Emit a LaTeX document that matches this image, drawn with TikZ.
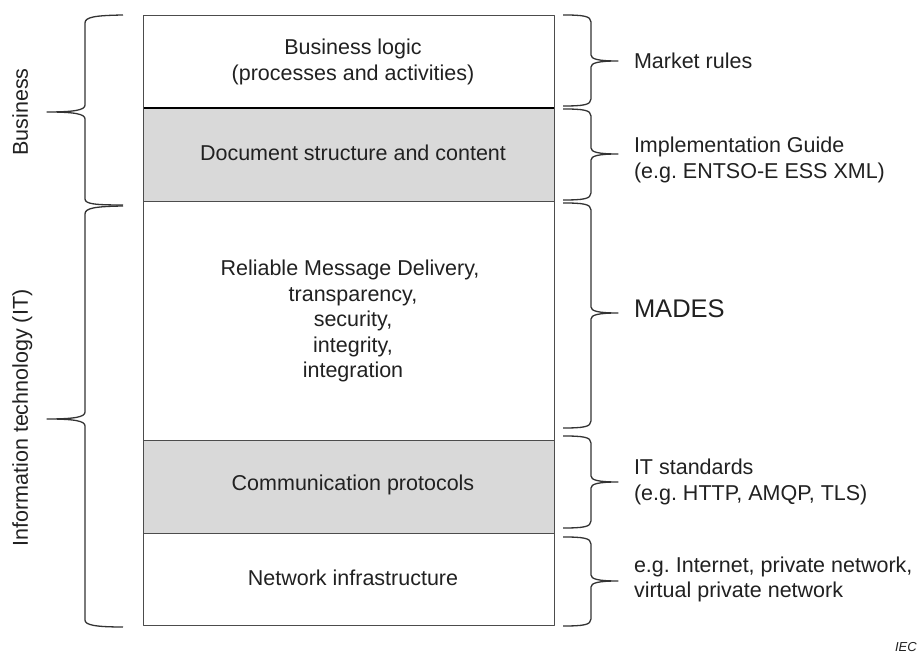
\documentclass[tikz,border=0pt]{standalone}
\usepackage{fontspec}
\setmainfont{Liberation Sans}
\frenchspacing
\begin{document}
\begin{tikzpicture}[x=1pt,y=1pt]
\definecolor{fillColor}{RGB}{255,255,255}
\path[use as bounding box,fill=fillColor] (0,0) rectangle (922,653);
\begin{scope}
\definecolor{fillColor}{RGB}{217,217,217}

\path[fill=fillColor] (143.50,451.00) rectangle (554.00,545.00);

\path[fill=fillColor] (143.50,119.50) rectangle (554.00,212.00);
\definecolor{drawColor}{gray}{0.30}

\path[draw=drawColor,line width= 1.0pt,line join=round] (143.50, 27.00) rectangle (554.00,637.00);

\path[draw=drawColor,line width= 1.0pt,line join=round] (143.50,451.00) --
	(554.00,451.00);

\path[draw=drawColor,line width= 1.0pt,line join=round] (143.50,212.00) --
	(554.00,212.00);

\path[draw=drawColor,line width= 1.0pt,line join=round] (143.50,119.50) --
	(554.00,119.50);
\definecolor{drawColor}{RGB}{0,0,0}

\path[draw=drawColor,line width= 2.0pt] (143.50,545.00) --
	(554.00,545.00);
\end{scope}
\begin{scope}
\definecolor{drawColor}{gray}{0.20}

\path[draw=drawColor,line width= 1.3pt,line join=round] (123.00,638.00) ..
	controls ( 95.00,637.50) and ( 85.00,636.00) .. ( 85.00,630.00) --
	( 85.00,548.00) .. controls ( 85.00,543.00) and ( 75.00,541.00) .. ( 47.00,541.00) ..
	controls ( 75.00,541.00) and ( 85.00,539.00) .. ( 85.00,534.00) --
	( 85.00,454.00) .. controls ( 85.00,449.00) and ( 95.00,448.00) .. (123.00,448.00);

\path[draw=drawColor,line width= 1.3pt,line join=round] (123.00,447.00) ..
	controls ( 95.00,446.50) and ( 85.00,445.00) .. ( 85.00,439.00) --
	( 85.00,241.00) .. controls ( 85.00,236.00) and ( 75.00,234.00) .. ( 47.00,234.00) ..
	controls ( 75.00,234.00) and ( 85.00,232.00) .. ( 85.00,227.00) --
	( 85.00, 33.00) .. controls ( 85.00, 28.00) and ( 95.00, 26.00) .. (123.00, 26.00);

\path[draw=drawColor,line width= 1.3pt,line join=round] (563.00,638.00) ..
	controls (583.00,638.00) and (591.00,637.00) .. (591.00,631.00) --
	(591.00,598.00) .. controls (591.00,594.00) and (598.00,592.00) .. (618.00,592.00) ..
	controls (598.00,592.00) and (591.00,590.00) .. (591.00,586.00) --
	(591.00,554.00) .. controls (591.00,548.00) and (583.00,547.00) .. (563.00,547.00);

\path[draw=drawColor,line width= 1.3pt,line join=round] (563.00,544.00) ..
	controls (583.00,544.00) and (591.00,543.00) .. (591.00,537.00) --
	(591.00,505.00) .. controls (591.00,501.00) and (598.00,499.00) .. (618.00,499.00) ..
	controls (598.00,499.00) and (591.00,497.00) .. (591.00,493.00) --
	(591.00,460.00) .. controls (591.00,454.00) and (583.00,453.00) .. (563.00,453.00);

\path[draw=drawColor,line width= 1.3pt,line join=round] (563.00,450.00) ..
	controls (583.00,450.00) and (591.00,449.00) .. (591.00,443.00) --
	(591.00,346.00) .. controls (591.00,342.00) and (598.00,340.00) .. (618.00,340.00) ..
	controls (598.00,340.00) and (591.00,338.00) .. (591.00,334.00) --
	(591.00,232.00) .. controls (591.00,226.00) and (583.00,225.00) .. (563.00,225.00);

\path[draw=drawColor,line width= 1.3pt,line join=round] (563.00,217.00) ..
	controls (583.00,217.00) and (591.00,216.00) .. (591.00,210.00) --
	(591.00,177.00) .. controls (591.00,173.00) and (598.00,171.00) .. (618.00,171.00) ..
	controls (598.00,171.00) and (591.00,169.00) .. (591.00,165.00) --
	(591.00,132.00) .. controls (591.00,126.00) and (583.00,125.00) .. (563.00,125.00);

\path[draw=drawColor,line width= 1.3pt,line join=round] (563.00,116.00) ..
	controls (583.00,116.00) and (591.00,115.00) .. (591.00,109.00) --
	(591.00, 78.00) .. controls (591.00, 74.00) and (598.00, 72.00) .. (618.00, 72.00) ..
	controls (598.00, 72.00) and (591.00, 70.00) .. (591.00, 66.00) --
	(591.00, 34.00) .. controls (591.00, 28.00) and (583.00, 27.00) .. (563.00, 27.00);
\end{scope}
\begin{scope}
\definecolor{drawColor}{gray}{0.13}

\node (logic1) [text=drawColor,anchor=base,inner sep=0pt, outer sep=0pt, scale=  2.15] at (353.00,598.00) {Business logic};

\node (logic2) [text=drawColor,anchor=base,inner sep=0pt, outer sep=0pt, scale=  2.15] at (353.00,572.00) {(processes and activities)};

\node (docstruct) [text=drawColor,anchor=base,inner sep=0pt, outer sep=0pt, scale=  2.15] at (353.00,492.30) {Document structure and content};

\node (rmd1) [text=drawColor,anchor=base,inner sep=0pt, outer sep=0pt, scale=  2.15] at (350.00,377.00) {Reliable Message Delivery,};

\node (rmd2) [text=drawColor,anchor=base,inner sep=0pt, outer sep=0pt, scale=  2.15] at (353.00,351.50) {transparency,};

\node (rmd3) [text=drawColor,anchor=base,inner sep=0pt, outer sep=0pt, scale=  2.15] at (353.00,326.00) {security,};

\node (rmd4) [text=drawColor,anchor=base,inner sep=0pt, outer sep=0pt, scale=  2.15] at (353.00,300.50) {integrity,};

\node (rmd5) [text=drawColor,anchor=base,inner sep=0pt, outer sep=0pt, scale=  2.15] at (353.00,275.00) {integration};

\node (commprot) [text=drawColor,anchor=base,inner sep=0pt, outer sep=0pt, scale=  2.15] at (353.00,162.00) {Communication protocols};

\node (netinfra) [text=drawColor,anchor=base,inner sep=0pt, outer sep=0pt, scale=  2.15] at (353.00, 67.00) {Network infrastructure};
\end{scope}
\begin{scope}
\definecolor{drawColor}{gray}{0.13}

\node (market) [text=drawColor,anchor=base west,inner sep=0pt, outer sep=0pt, scale=  2.15] at (634.00,584.00) {Market rules};

\node (implguide1) [text=drawColor,anchor=base west,inner sep=0pt, outer sep=0pt, scale=  2.15] at (634.00,500.00) {Implementation Guide};

\node (implguide2) [text=drawColor,anchor=base west,inner sep=0pt, outer sep=0pt, scale=  2.15] at (634.00,474.00) {(e.g. ENTSO-E ESS XML)};

\node (mades) [text=drawColor,anchor=base west,inner sep=0pt, outer sep=0pt, scale=  2.55] at (634.00,335.00) {MADES};

\node (itstd1) [text=drawColor,anchor=base west,inner sep=0pt, outer sep=0pt, scale=  2.15] at (634.00,178.00) {IT standards};

\node (itstd2) [text=drawColor,anchor=base west,inner sep=0pt, outer sep=0pt, scale=  2.15] at (634.00,152.00) {(e.g. HTTP, AMQP, TLS)};

\node (network1) [text=drawColor,anchor=base west,inner sep=0pt, outer sep=0pt, scale=  2.15] at (634.00, 80.70) {e.g. Internet, private network,};

\node (network2) [text=drawColor,anchor=base west,inner sep=0pt, outer sep=0pt, scale=  2.15] at (634.00, 55.30) {virtual private network};
\end{scope}
\begin{scope}
\definecolor{drawColor}{gray}{0.13}

\node (business) [text=drawColor,rotate= 90.00,anchor=base,inner sep=0pt, outer sep=0pt, scale=  2.15] at ( 28.00,541.00) {Business};

\node (infotech) [text=drawColor,rotate= 90.00,anchor=base,inner sep=0pt, outer sep=0pt, scale=  2.15] at ( 28.00,235.00) {Information technology (IT)};

\node (iec) [text=drawColor,anchor=base west,inner sep=0pt, outer sep=0pt, scale=  1.30] at (895.00,  1.50) {\itshape IEC};
\end{scope}
\end{tikzpicture}
\end{document}
